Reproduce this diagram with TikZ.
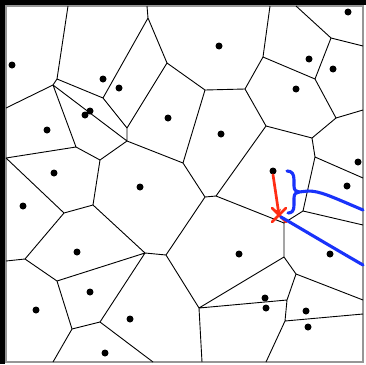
\documentclass[tikz,border=0pt]{standalone}
\usetikzlibrary{arrows.meta}
\definecolor{redc}{RGB}{255,45,20}
\definecolor{bluec}{RGB}{25,50,250}
\definecolor{framec}{RGB}{150,150,150}
\begin{document}
\begin{tikzpicture}[x=1pt,y=-1pt,
  edge/.style={line width=0.9pt,black},
  site/.style={circle,fill=black,inner sep=0pt,minimum size=7pt},
  bluepath/.style={bluec,line width=3.1pt,line cap=round,line join=round},
  redpath/.style={redc,line width=2.7pt,line cap=round}]
\useasboundingbox (0,0) rectangle (366,364);
\fill[white] (0,0) rectangle (366,364);
\fill[black] (0,0) rectangle (366,5);
\fill[black] (0,0) rectangle (5,364);
\draw[framec,line width=1.2pt] (6,6) rectangle (363,362);

% Voronoi vertices
\coordinate (A) at (57,79);
\coordinate (B) at (53,85);
\coordinate (C) at (103,98);
\coordinate (D) at (148,18);
\coordinate (E) at (167,63);
\coordinate (F) at (127,128);
\coordinate (G) at (127,141);
\coordinate (H) at (76,147);
\coordinate (I) at (100,160);
\coordinate (J) at (205,90);
\coordinate (K) at (183,163);
\coordinate (L) at (245,89);
\coordinate (M) at (263,57);
\coordinate (N) at (331,38);
\coordinate (O) at (315,79);
\coordinate (P) at (266,126);
\coordinate (Q) at (336,118);
\coordinate (R) at (312,138);
\coordinate (S) at (315,157);
\coordinate (T) at (303,211);
\coordinate (U) at (284,223);
\coordinate (V) at (284,257);
\coordinate (W) at (296,274);
\coordinate (X) at (287,300);
\coordinate (Y) at (285,321);
\coordinate (Z) at (199,308);
\coordinate (AA) at (205,197);
\coordinate (AB) at (216,196);
\coordinate (AC) at (166,255);
\coordinate (AD) at (145,253);
\coordinate (AE) at (93,205);
\coordinate (AF) at (64,213);
\coordinate (AG) at (25,259);
\coordinate (AH) at (57,281);
\coordinate (AI) at (72,329);
\coordinate (AJ) at (100,322);
% border points
\coordinate (tA) at (68,6);
\coordinate (tD) at (147,6);
\coordinate (tM) at (270,6);
\coordinate (tN) at (296,6);
\coordinate (rN) at (363,46);
\coordinate (rQ) at (363,110);
\coordinate (rS) at (363,178);
\coordinate (rT) at (363,225);
\coordinate (rW) at (363,300);
\coordinate (rY) at (363,314);
\coordinate (bY) at (266,362);
\coordinate (bZ) at (202,362);
\coordinate (bAJ) at (153,362);
\coordinate (bAI) at (53,362);
\coordinate (lB) at (6,108);
\coordinate (lH) at (6,158);
\coordinate (lAG) at (6,261);

\draw[edge]
  (A)--(tA) (A)--(B) (A)--(C) (B)--(lB) (B)--(H) (B)--(G)
  (C)--(D) (C)--(F) (D)--(tD) (D)--(E) (E)--(F) (E)--(J)
  (F)--(G) (G)--(I) (G)--(K) (H)--(I) (H)--(lH) (I)--(AE)
  (lH)--(AF) (AE)--(AF) (AF)--(AG) (AG)--(lAG) (AG)--(AH)
  (AE)--(AD) (AH)--(AD) (AH)--(AI) (AD)--(AJ) (AI)--(AJ)
  (AI)--(bAI) (AJ)--(bAJ) (AD)--(AC) (AC)--(AA) (AC)--(Z)
  (J)--(K) (J)--(L) (K)--(AA) (AA)--(AB) (AB)--(P) (AB)--(U)
  (L)--(M) (L)--(P) (M)--(tM) (M)--(O) (N)--(tN) (N)--(rN)
  (N)--(O) (O)--(Q) (Q)--(rQ) (Q)--(R) (P)--(R) (R)--(S)
  (S)--(rS) (S)--(T) (T)--(rT) (T)--(U) (U)--(V) (V)--(W)
  (V)--(Z) (W)--(rW) (W)--(X) (X)--(Z) (X)--(Y) (Y)--(rY)
  (Y)--(bY) (Z)--(bZ);

% sites
\foreach \n/\x/\y in {s1/12/65, s2/103/79, s3/119/88, s4a/85/115, s4b/90/111,
  s5/47/130, s6/168/118, s7/54/173, s8/219/46, s9/348/12, s10/309/59,
  s11/333/69, s12/296/89, s13/221/134, s14/358/162, s15/273/171,
  s16/140/187, s17/23/206, s18/77/252, s19/90/292, s20/36/310,
  s21/130/319, s22/105/353, s23/347/186, s24/239/254, s25/330/254,
  s26/265/298, s27/266/308, s28/306/311, s29/308/327}
  \node[site] (\n) at (\x,\y) {};

% red arrow and cross
\coordinate (xm) at (279,215);
\coordinate (xa1) at (272,208);
\coordinate (xa2) at (286,222);
\coordinate (xb1) at (286,208);
\coordinate (xb2) at (272,222);
\draw[redpath,-{Stealth[length=6pt,width=6pt]}] (s15.south) -- (xm);
\draw[redpath] (xa1)--(xa2) (xb1)--(xb2);

% blue brace and curves
\coordinate (bt) at (287,171);
\coordinate (bm) at (299,192);
\coordinate (bb) at (288,213);
\coordinate (b1e) at (363,210);
\coordinate (b2s) at (281,217);
\coordinate (b2e) at (363,265);
\draw[bluepath] (bt) .. controls (292,171) and (294,174) .. (294,180)
  -- (294,186) .. controls (294,190) and (296,192) .. (bm)
  .. controls (296,192) and (294,194) .. (294,198)
  -- (294,205) .. controls (294,211) and (292,213) .. (bb);
\draw[bluepath] (bm) -- (308,191) .. controls (320,191) and (330,196) .. (b1e);
\draw[bluepath] (b2s) .. controls (300,228) and (330,246) .. (b2e);
\end{tikzpicture}
\end{document}
